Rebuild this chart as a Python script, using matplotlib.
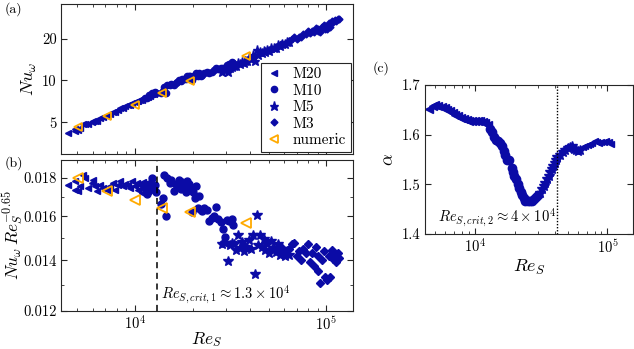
import matplotlib

matplotlib.use("Agg")
import matplotlib.pyplot as plt
import numpy as np
from matplotlib.ticker import FixedLocator, FixedFormatter, NullLocator, LogLocator, NullFormatter

plt.rcParams["font.family"] = "serif"
plt.rcParams["font.serif"] = ["cmr10", "DejaVu Serif"]
plt.rcParams["mathtext.fontset"] = "cm"
plt.rcParams["axes.formatter.use_mathtext"] = True

# ---------------------------------------------------------------- data (b): Nu_w Re_S^-0.65
re_m20 = [4480, 4850, 4850, 5050, 5150, 5370, 5470, 5690, 5930, 6050, 6170, 6300, 6560,
          6830, 7110, 7400, 7700, 7860, 8180, 8340, 8680, 8900, 9220, 9400, 9610, 10000,
          10200, 10400, 10600, 10840, 11000, 11200, 11500, 11700, 11980, 12300, 12600]
nc_m20 = [0.01762, 0.01781, 0.01735, 0.01727, 0.01754, 0.01815, 0.01800, 0.01745, 0.01772,
          0.01790, 0.01754, 0.01727, 0.01762, 0.01745, 0.01736, 0.01754, 0.01772, 0.01736,
          0.01762, 0.01781, 0.01754, 0.01768, 0.01762, 0.01745, 0.01781, 0.01754, 0.01770,
          0.01736, 0.01760, 0.01720, 0.01778, 0.01745, 0.01762, 0.01730, 0.01736, 0.01752,
          0.01728]

re_m10 = [11300, 11600, 11900, 12200, 12400, 12700, 12900, 13700, 14000, 14100, 14500, 14700,
          15200, 15500, 15900, 16300, 16600, 17000, 17300, 17700, 18000, 18400, 18800, 19100,
          19500, 19800, 20200, 20600, 20900, 21300, 21700, 22000, 22500, 23000, 23800, 24500,
          25200, 25800, 26500, 27300, 28100, 28900, 29500, 30300, 31000, 32000, 32600]
nc_m10 = [0.01745, 0.01712, 0.01765, 0.01800, 0.01740, 0.01760, 0.01722, 0.01660, 0.01690,
          0.01815, 0.01600, 0.01798, 0.01770, 0.01790, 0.01730, 0.01765, 0.01748, 0.01785,
          0.01742, 0.01775, 0.01760, 0.01722, 0.01780, 0.01768, 0.01745, 0.01622, 0.01725,
          0.01692, 0.01758, 0.01640, 0.01705, 0.01632, 0.01625, 0.01640, 0.01632, 0.01580,
          0.01592, 0.01600, 0.01645, 0.01588, 0.01575, 0.01540, 0.01505, 0.01585, 0.01578,
          0.01588, 0.01560]

re_m5 = [28500, 29500, 30500, 31200, 32000, 33000, 33800, 34500, 35500, 36200, 37000, 37800,
         38500, 39500, 40500, 41500, 42500, 43200, 44200, 45000, 46000, 47000, 48000, 49000,
         50000, 51500, 53000, 54500, 56000, 57500, 59000, 60500, 62000, 64000]
nc_m5 = [0.01470, 0.01478, 0.01398, 0.01465, 0.01478, 0.01470, 0.01445, 0.01510, 0.01455,
         0.01482, 0.01440, 0.01460, 0.01452, 0.01490, 0.01448, 0.01510, 0.01345, 0.01605,
         0.01465, 0.01510, 0.01460, 0.01492, 0.01445, 0.01470, 0.01432, 0.01485, 0.01455,
         0.01438, 0.01470, 0.01425, 0.01450, 0.01420, 0.01440, 0.01425]

re_m3 = [52000, 55000, 58000, 61000, 64000, 66000, 68000, 70000, 72000, 74000, 76000, 78000,
         80000, 82000, 84000, 86000, 88000, 90000, 91000, 93000, 95000, 97000, 99000, 101000,
         103000, 105000, 107000, 109000, 111000, 113000, 115000, 117000]
nc_m3 = [0.01450, 0.01440, 0.01460, 0.01430, 0.01448, 0.01470, 0.01478, 0.01420, 0.01440,
         0.01400, 0.01450, 0.01430, 0.01470, 0.01395, 0.01430, 0.01375, 0.01460, 0.01420,
         0.01355, 0.01308, 0.01400, 0.01440, 0.01330, 0.01320, 0.01420, 0.01330, 0.01445,
         0.01405, 0.01420, 0.01395, 0.01430, 0.01410]

re_num = [5050, 7110, 10000, 13800, 19400, 38100]
nc_num = [0.01800, 0.01727, 0.01680, 0.01640, 0.01620, 0.01570]

# ---------------------------------------------------------------- data (c): alpha
re_a20 = [4500, 4800, 5000, 5300, 5600, 5900, 6200, 6500, 6800, 7100, 7500, 7900, 8300, 8700,
          9100, 9500, 10000, 10500, 11000, 11500, 12000, 12500]
al_a20 = [1.651, 1.658, 1.660, 1.657, 1.655, 1.653, 1.650, 1.647, 1.643, 1.640, 1.637, 1.633,
          1.632, 1.630, 1.628, 1.628, 1.628, 1.627, 1.628, 1.626, 1.624, 1.620]
re_a10 = [13000, 13500, 14000, 14500, 15000, 15500, 16000, 16500, 17000, 17500, 18000, 18900,
          19400, 19900, 20500, 21000, 21600, 22200, 22800, 23400, 24000, 25000, 26000, 27000,
          28000, 29000, 30000]
al_a10 = [1.612, 1.605, 1.596, 1.590, 1.587, 1.583, 1.577, 1.568, 1.560, 1.550, 1.550, 1.533,
          1.525, 1.517, 1.510, 1.500, 1.492, 1.484, 1.478, 1.472, 1.467, 1.466, 1.467, 1.467,
          1.470, 1.474, 1.478]
re_a5 = [31000, 32000, 33000, 34000, 35000, 36000, 37000, 38000, 39000, 40000, 41000, 42000,
         44000, 46000, 48000, 50000, 52000, 54000, 56000, 58000, 60000, 62000]
al_a5 = [1.483, 1.490, 1.497, 1.503, 1.510, 1.516, 1.524, 1.530, 1.536, 1.543, 1.550, 1.555,
         1.560, 1.566, 1.570, 1.573, 1.575, 1.578, 1.572, 1.570, 1.567, 1.569]
re_a3 = [65000, 68000, 71000, 74000, 77000, 80000, 83000, 86000, 90000, 94000, 98000, 102000,
         106000]
al_a3 = [1.575, 1.578, 1.580, 1.582, 1.583, 1.588, 1.585, 1.584, 1.585, 1.586, 1.587, 1.586,
         1.582]

re_crit1 = 1.3e4
re_crit2 = 4.2e4
exponent = 0.65

BLUE = "#0b0ba6"
ORANGE = "#ffaa00"
SPINE = "#262626"

series = [
    ("M20", "<", 5, re_m20, nc_m20),
    ("M10", "o", 5, re_m10, nc_m10),
    ("M5", "*", 7, re_m5, nc_m5),
    ("M3", "D", 4, re_m3, nc_m3),
]


def style_axes(ax):
    for s in ax.spines.values():
        s.set_color(SPINE)
        s.set_linewidth(0.8)
    ax.tick_params(which="both", direction="in", top=True, right=True, colors=SPINE,
                   labelsize=10.5, labelcolor="black", pad=3)
    ax.tick_params(which="major", length=4)
    ax.tick_params(which="minor", length=2)


fig = plt.figure(figsize=(6.34, 3.49), dpi=100)
ax_a = fig.add_axes([0.0962, 0.5587, 0.4606, 0.4298])
ax_b = fig.add_axes([0.0962, 0.1089, 0.4606, 0.4327])
ax_c = fig.add_axes([0.6703, 0.3295, 0.3281, 0.4269])

# (a) Nu_w against Re_S
for name, mk, ms, re, nc in series:
    re = np.array(re)
    nu = np.array(nc) * re ** exponent
    ax_a.plot(re, nu, ls="none", marker=mk, ms=ms - 0.5, color=BLUE, mec=BLUE, label=name)
re_n = np.array(re_num)
ax_a.plot(re_n, np.array(nc_num) * re_n ** exponent, ls="none", marker="<", ms=6,
          mfc="none", mec=ORANGE, mew=1.3, label="numeric")
ax_a.set_xscale("log")
ax_a.set_yscale("log")
ax_a.set_xlim(4100, 1.38e5)
ax_a.set_ylim(2.95, 35.5)
ax_a.yaxis.set_major_locator(FixedLocator([5, 10, 20]))
ax_a.yaxis.set_major_formatter(FixedFormatter(["5", "10", "20"]))
ax_a.yaxis.set_minor_locator(NullLocator())
ax_a.xaxis.set_minor_locator(LogLocator(subs=np.arange(2, 10)))
ax_a.xaxis.set_major_formatter(NullFormatter())
ax_a.xaxis.set_minor_formatter(NullFormatter())
ax_a.set_ylabel(r"$Nu_\omega$", fontsize=13, labelpad=2)
leg = ax_a.legend(loc="lower right", fontsize=11, handlelength=1.2, handletextpad=0.6,
                  borderaxespad=0.15, labelspacing=0.18, borderpad=0.3, fancybox=False,
                  framealpha=1)
leg.get_frame().set_edgecolor(SPINE)
leg.get_frame().set_linewidth(0.8)
style_axes(ax_a)

# (b) compensated Nu_w
for name, mk, ms, re, nc in series:
    ax_b.plot(re, nc, ls="none", marker=mk, ms=ms, color=BLUE, mec=BLUE)
ax_b.plot(re_num, nc_num, ls="none", marker="<", ms=7, mfc="none", mec=ORANGE, mew=1.3)
ax_b.axvline(re_crit1, color="black", ls=(0, (4, 3)), lw=1.1)
ax_b.set_xscale("log")
ax_b.set_yscale("log")
ax_b.set_xlim(4100, 1.38e5)
ax_b.set_ylim(0.012, 0.019)
ax_b.yaxis.set_major_locator(FixedLocator([0.012, 0.014, 0.016, 0.018]))
ax_b.yaxis.set_major_formatter(FixedFormatter(["0.012", "0.014", "0.016", "0.018"]))
ax_b.yaxis.set_minor_locator(FixedLocator([0.013, 0.015, 0.017]))
ax_b.yaxis.set_minor_formatter(NullFormatter())
ax_b.xaxis.set_minor_locator(LogLocator(subs=np.arange(2, 10)))
ax_b.xaxis.set_minor_formatter(NullFormatter())
ax_b.text(1.37e4, 0.01265, r"$Re_{S,crit,1} \approx 1.3 \times 10^4$", fontsize=10.5,
          va="center", ha="left")
ax_b.set_xlabel(r"$Re_S$", fontsize=12.5, labelpad=-2.5)
ax_b.set_ylabel(r"$Nu_\omega\, Re_S^{-0.65}$", fontsize=12.5, labelpad=-1)
style_axes(ax_b)

# (c) alpha
for mk, ms, re, al in [("<", 6, re_a20, al_a20), ("o", 6, re_a10, al_a10),
                       ("*", 7, re_a5, al_a5), ("<", 5, re_a3, al_a3)]:
    ax_c.plot(re, al, ls="none", marker=mk, ms=ms, color=BLUE, mec=BLUE)
ax_c.axvline(re_crit2, color="black", ls=(0, (1, 1.2)), lw=1.0)
ax_c.set_xscale("log")
ax_c.set_xlim(4200, 1.56e5)
ax_c.set_ylim(1.4, 1.7)
ax_c.yaxis.set_major_locator(FixedLocator([1.4, 1.5, 1.6, 1.7]))
ax_c.yaxis.set_major_formatter(FixedFormatter(["1.4", "1.5", "1.6", "1.7"]))
ax_c.xaxis.set_minor_locator(LogLocator(subs=np.arange(2, 10)))
ax_c.xaxis.set_minor_formatter(NullFormatter())
ax_c.text(5250, 1.435, r"$Re_{S,crit,2} \approx 4 \times 10^4$", fontsize=10.5,
          va="center", ha="left")
ax_c.set_xlabel(r"$Re_S$", fontsize=13, labelpad=1)
ax_c.set_ylabel(r"$\alpha$", fontsize=13, labelpad=4)
style_axes(ax_c)

fig.text(0.008, 0.975, "(a)", fontsize=10, va="center")
fig.text(0.008, 0.533, "(b)", fontsize=10, va="center")
fig.text(0.588, 0.805, "(c)", fontsize=10, va="center")

fig.savefig("out.png", dpi=100)
